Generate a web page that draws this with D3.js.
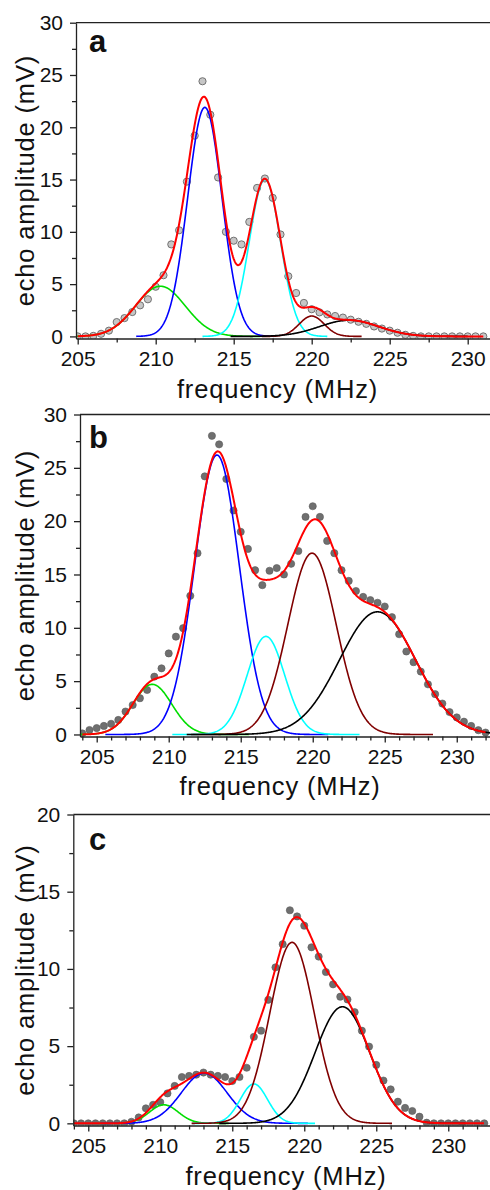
<!DOCTYPE html>
<html><head><meta charset="utf-8">
<script src="https://cdn.jsdelivr.net/npm/d3@7"></script>
<style>
html,body{margin:0;padding:0;background:#fff;}
svg{display:block;}
text{font-family:"Liberation Sans",Arial,Helvetica,sans-serif;}
</style></head><body>
<svg id="chart" width="490" height="1190"></svg>
<script>
// ---------- data ----------
const freqA = [205,205.5,206,206.5,207,207.5,208,208.5,209,209.5,210,210.5,211,211.5,212,212.5,213,213.5,214,214.5,215,215.5,216,216.5,217,217.5,218,218.5,219,219.5,220,220.5,221,221.5,222,222.5,223,223.5,224,224.5,225,225.5,226,226.5,227,227.5,228,228.5,229,229.5,230,230.5,231];
const ampA = [0,0,0.05,0.25,0.55,1.37,1.75,2.33,2.97,3.55,
  4.75,5.85,8.8,10.15,14.8,19.2,24.4,21.2,15.2,10.0,
  9.15,8.8,10.95,14.2,15.1,13.25,9.75,5.75,4.15,3.2,
  2.6,2.3,2.1,1.95,1.8,1.6,1.4,1.2,0.95,0.75,
  0.55,0.35,0.15,0.05,0,0,0,0,0,0,
  0,0,0];

const freqB = [204,204.5,205,205.5,206,206.5,207,207.5,208,208.5,209,209.5,210,210.5,211,211.5,212,212.5,213,213.5,214,214.5,215,215.5,216,216.5,217,217.5,218,218.5,219,219.5,220,220.5,221,221.5,222,222.5,223,223.5,224,224.5,225,225.5,226,226.5,227,227.5,228,228.5,229,229.5,230,230.5,231,231.5,232];
const ampB = [0.1,0.42,0.6,0.8,1.0,1.36,2.15,2.76,3.4,4.17,
  5.42,6.2,7.6,9.17,9.97,13.0,17.0,24.2,28.0,27.2,
  23.95,21.0,19.0,17.4,15.4,14.0,15.35,15.6,15.0,16.0,
  17.2,20.4,21.4,20.4,18.15,17.0,15.4,14.4,13.45,12.9,
  12.6,12.35,12.0,11.0,9.4,7.78,6.78,5.9,4.7,3.78,
  2.9,2.1,1.6,1.2,0.8,0.4,0.18];

const freqC = [204,204.5,205,205.5,206,206.5,207,207.5,208,208.5,209,209.5,210,210.5,211,211.5,212,212.5,213,213.5,214,214.5,215,215.5,216,216.5,217,217.5,218,218.5,219,219.5,220,220.5,221,221.5,222,222.5,223,223.5,224,224.5,225,225.5,226,226.5,227,227.5,228,228.5,229,229.5,230,230.5,231,231.5,232,232.5];
const ampC = [0,0,0,0,0,0,0,0,0.1,0.38,
  0.97,1.2,1.37,1.94,2.42,3.0,3.07,3.15,3.29,3.15,
  3.07,3.0,2.74,3.0,3.6,5.6,6.0,8.0,10.1,11.6,
  13.8,13.4,12.8,11.4,10.8,9.8,9.0,8.2,8.02,7.2,
  6.0,4.97,3.78,2.77,2.2,1.4,1.0,0.8,0.43,0.04,
  0,0,0,0,0,0,0,0];

// Gaussian fit components (center MHz, height mV, sigma MHz), order: green, blue, cyan, wine, black
const compColors = ["#00dd00","#0000ff","#00ffff","#800000","#000000"];
const centerA = [210.3, 213.15, 217.0, 220.0, 222.4];
const heightA = [4.8, 21.9, 15.0, 1.95, 1.55];
const sigmaA  = [1.6, 1.1, 1.0, 0.8, 1.9];
const centerB = [208.86, 213.35, 216.75, 219.95, 224.5];
const heightB = [4.7, 26.2, 9.2, 17.0, 11.5];
const sigmaB  = [1.35, 1.55, 1.3, 1.68, 2.65];
const centerC = [210.25, 213.05, 216.5, 219.15, 222.65];
const heightC = [1.2, 3.25, 2.55, 11.72, 7.55];
const sigmaC  = [1.0, 1.6, 0.95, 1.55, 1.9];

const xMajorTicks = [205,210,215,220,225,230];
const yMajorA = [0,5,10,15,20,25,30];
const yMajorB = [0,5,10,15,20,25,30];
const yMajorC = [0,5,10,15,20];
const xTitle = "frequency (MHz)";
const yTitle = "echo amplitude (mV)";
const panelLetters = ["a","b","c"];

// ---------- layout ----------
const panels = [
  {letter: panelLetters[0], freq: freqA, amp: ampA, c: centerA, h: heightA, s: sigmaA,
   xDomain: [204.891, 232.391], xRange: [76, 505], yDomain: [-0.2, 30], yRange: [338.5, 22.7],
   yMajor: yMajorA, xMinorStep: 2.5, yMinorStep: 2.5, yMax: 30, span: 4,
   fill: "#c6c6c6", stroke: "#666", sw: 0.9,
   xTitleX: 277.5, xTitleY: 398, letterY: 52},
  {letter: panelLetters[1], freq: freqB, amp: ampB, c: centerB, h: heightB, s: sigmaB,
   xDomain: [203.84, 233.35], xRange: [80, 505], yDomain: [-0.19, 30], yRange: [736.5, 414.5],
   yMajor: yMajorB, xMinorStep: 1, yMinorStep: 2.5, yMax: 30, span: 5,
   fill: "#6f6f6f", stroke: "#5a5a5a", sw: 0.6,
   xTitleX: 280, xTitleY: 795, letterY: 448},
  {letter: panelLetters[2], freq: freqC, amp: ampC, c: centerC, h: heightC, s: sigmaC,
   xDomain: [203.96, 233.94], xRange: [73.3, 505], yDomain: [-0.14, 20], yRange: [1125.5, 814.5],
   yMajor: yMajorC, xMinorStep: 1, yMinorStep: 2.5, yMax: 20, span: 4.5,
   fill: "#6f6f6f", stroke: "#5a5a5a", sw: 0.6,
   xTitleX: 286, xTitleY: 1185, letterY: 850}
];

const svg = d3.select("#chart");
const axisColor = "#222";

function gauss(f, c, h, s) { return h * Math.exp(-((f - c) * (f - c)) / (2 * s * s)); }

panels.forEach((p, i) => {
  const g = svg.append("g");
  const x = d3.scaleLinear().domain(p.xDomain).range(p.xRange);
  const y = d3.scaleLinear().domain(p.yDomain).range(p.yRange);
  const clipId = "clip" + i;
  svg.append("clipPath").attr("id", clipId).append("rect")
    .attr("x", p.xRange[0]).attr("y", p.yRange[1])
    .attr("width", p.xRange[1] - p.xRange[0]).attr("height", p.yRange[0] - p.yRange[1]);

  const plot = g.append("g").attr("clip-path", `url(#${clipId})`);

  // data points
  plot.selectAll("circle").data(p.freq.map((f, k) => [f, p.amp[k]])).join("circle")
    .attr("cx", d => x(d[0])).attr("cy", d => y(d[1])).attr("r", 3.6)
    .attr("fill", p.fill).attr("stroke", p.stroke).attr("stroke-width", p.sw);

  // component curves
  const line = d3.line().x(d => x(d[0])).y(d => y(d[1])).curve(d3.curveLinear);
  p.c.forEach((c, k) => {
    const s = p.s[k];
    const pts = d3.range(c - p.span * s, c + p.span * s + 1e-9, 0.04).map(f => [f, gauss(f, c, p.h[k], s)]);
    plot.append("path").attr("d", line(pts)).attr("fill", "none")
      .attr("stroke", compColors[k]).attr("stroke-width", 1.6);
  });
  // total fit (sum of components)
  const f0 = p.freq[0], f1 = p.freq[p.freq.length - 1];
  const sumPts = d3.range(f0, f1 + 1e-9, 0.04).map(f => [f, d3.sum(p.c, (c, k) => gauss(f, c, p.h[k], p.s[k]))]);
  plot.append("path").attr("d", line(sumPts)).attr("fill", "none")
    .attr("stroke", "#ff0000").attr("stroke-width", 2);

  // frame (top / right)
  g.append("path")
    .attr("d", `M${p.xRange[0]},${p.yRange[1]}H${p.xRange[1]}V${p.yRange[0]}`)
    .attr("fill", "none").attr("stroke", axisColor).attr("stroke-width", 1.3);

  // x axis
  const xMinor = d3.range(Math.ceil(p.xDomain[0] / p.xMinorStep) * p.xMinorStep, p.xDomain[1], p.xMinorStep)
    .filter(v => xMajorTicks.indexOf(v) < 0);
  const xa = g.append("g").attr("transform", `translate(0,${p.yRange[0]})`)
    .call(d3.axisBottom(x).tickValues(xMajorTicks).tickSize(6).tickPadding(7).tickSizeOuter(0).tickFormat(d3.format("d")));
  const xm = g.append("g").attr("transform", `translate(0,${p.yRange[0]})`)
    .call(d3.axisBottom(x).tickValues(xMinor).tickSize(4).tickFormat(""));
  xm.select(".domain").remove();

  // y axis
  const yMinor = d3.range(0, p.yMax + 0.001, p.yMinorStep).filter(v => p.yMajor.indexOf(v) < 0);
  const ya = g.append("g").attr("transform", `translate(${p.xRange[0]},0)`)
    .call(d3.axisLeft(y).tickValues(p.yMajor).tickSize(6).tickPadding(7).tickSizeOuter(0));
  const ym = g.append("g").attr("transform", `translate(${p.xRange[0]},0)`)
    .call(d3.axisLeft(y).tickValues(yMinor).tickSize(4).tickFormat(""));
  ym.select(".domain").remove();

  [xa, xm, ya, ym].forEach(a => {
    a.selectAll("path,line").attr("stroke", axisColor).attr("stroke-width", 1.3);
    a.selectAll("text").attr("font-size", 21).attr("fill", "#111")
      .attr("font-family", '"Liberation Sans",Arial,sans-serif');
  });

  // titles
  g.append("text").attr("x", p.xTitleX).attr("y", p.xTitleY)
    .attr("text-anchor", "middle").attr("font-size", 25.5).attr("letter-spacing", 0.85)
    .attr("fill", "#111").text(xTitle);
  const cy = (p.yRange[0] + p.yRange[1]) / 2;
  g.append("text").attr("transform", `translate(34,${cy}) rotate(-90)`)
    .attr("text-anchor", "middle").attr("font-size", 25.5).attr("letter-spacing", 0.85)
    .attr("fill", "#111").text(yTitle);
  g.append("text").attr("x", 89).attr("y", p.letterY)
    .attr("font-size", 31).attr("font-weight", "bold").attr("fill", "#111").text(p.letter);
});
</script>
</body></html>
